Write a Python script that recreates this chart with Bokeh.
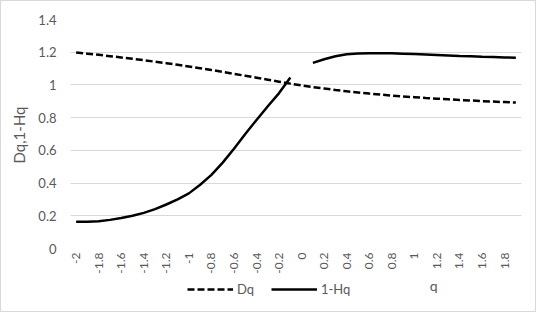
import math
from bokeh.plotting import figure
from bokeh.layouts import column
from bokeh.models import Range1d, FixedTicker, Label, Legend, LegendItem, ColumnDataSource, Title
from bokeh.embed import file_html
from bokeh.resources import INLINE

q = [-2.0, -1.9, -1.8, -1.7, -1.6, -1.5, -1.4, -1.3, -1.2, -1.1,
     -1.0, -0.9, -0.8, -0.7, -0.6, -0.5, -0.4, -0.3, -0.2, -0.1,
     0.0, 0.1, 0.2, 0.3, 0.4, 0.5, 0.6, 0.7, 0.8, 0.9,
     1.0, 1.1, 1.2, 1.3, 1.4, 1.5, 1.6, 1.7, 1.8, 1.9]

dq = [1.198, 1.191, 1.184, 1.176, 1.168, 1.160, 1.151, 1.142, 1.133, 1.123,
      1.113, 1.102, 1.091, 1.080, 1.068, 1.056, 1.044, 1.032, 1.020, 1.008,
      0.997, 0.987, 0.978, 0.969, 0.961, 0.954, 0.947, 0.941, 0.935, 0.930,
      0.925, 0.920, 0.916, 0.912, 0.908, 0.905, 0.901, 0.898, 0.895, 0.892]

one_minus_hq = [0.163, 0.164, 0.167, 0.175, 0.186, 0.200, 0.218, 0.241, 0.269, 0.300,
                0.337, 0.390, 0.450, 0.525, 0.610, 0.700, 0.786, 0.870, 0.950, 1.045,
                float("nan"), 1.135, 1.157, 1.175, 1.187, 1.192, 1.194, 1.194, 1.193, 1.191,
                1.189, 1.186, 1.183, 1.180, 1.177, 1.175, 1.172, 1.170, 1.168, 1.166]

x_ticks = [-2.0, -1.8, -1.6, -1.4, -1.2, -1.0, -0.8, -0.6, -0.4, -0.2,
           0.0, 0.2, 0.4, 0.6, 0.8, 1.0, 1.2, 1.4, 1.6, 1.8]
x_tick_labels = ["-2", "-1.8", "-1.6", "-1.4", "-1.2", "-1", "-0.8", "-0.6", "-0.4", "-0.2",
                 "0", "0.2", "0.4", "0.6", "0.8", "1", "1.2", "1.4", "1.6", "1.8"]
y_ticks = [0, 0.2, 0.4, 0.6, 0.8, 1.0, 1.2, 1.4]
y_tick_labels = ["0", "0.2", "0.4", "0.6", "0.8", "1", "1.2", "1.4"]

FONT = "Lato"
GRAY = "#595959"
DASH = "7 3"
LW = 2.5

src = ColumnDataSource(dict(q=q, dq=dq, hq=one_minus_hq))

# ---------------- main chart ----------------
p = figure(width=534, height=276, output_backend="svg", toolbar_location=None,
           x_range=Range1d(-2.05, 1.95), y_range=Range1d(0, 1.4),
           min_border_left=69, min_border_right=14, min_border_top=18, min_border_bottom=29)
p.outline_line_color = None

p.line("q", "dq", source=src, line_color="black", line_width=LW, line_dash=DASH)
p.line("q", "hq", source=src, line_color="black", line_width=LW)

p.xaxis.ticker = FixedTicker(ticks=x_ticks)
p.xaxis.major_label_overrides = {t: l for t, l in zip(x_ticks, x_tick_labels)}
p.xaxis.major_label_orientation = math.pi / 2
p.yaxis.ticker = FixedTicker(ticks=y_ticks)
p.yaxis.major_label_overrides = {t: l for t, l in zip(y_ticks, y_tick_labels)}
for ax in (p.xaxis, p.yaxis):
    ax.axis_line_color = None
    ax.major_tick_line_color = None
    ax.minor_tick_line_color = None
    ax.major_tick_out = 0
    ax.major_tick_in = 0
    ax.major_label_text_font = FONT
    ax.major_label_text_color = GRAY
p.xaxis.major_label_text_font_size = "12px"
p.yaxis.major_label_text_font_size = "13px"
p.xaxis.major_label_standoff = 4
p.yaxis.major_label_standoff = 14

p.xgrid.grid_line_color = None
p.ygrid.ticker = FixedTicker(ticks=y_ticks)
p.ygrid.grid_line_color = "#d9d9d9"
p.ygrid.grid_line_width = 1

p.add_layout(Title(text="Dq,1-Hq", align="left", offset=85, standoff=12, vertical_align="top",
                   text_font=FONT, text_font_size="15px", text_font_style="normal",
                   text_color=GRAY), "left")

# ---------------- legend strip ----------------
p2 = figure(width=534, height=34, output_backend="svg", toolbar_location=None,
            x_range=Range1d(0, 534), y_range=Range1d(0, 34),
            x_axis_location=None, y_axis_location=None,
            min_border_left=0, min_border_right=0, min_border_top=0, min_border_bottom=0)
p2.outline_line_color = None
p2.grid.visible = False
# the series are drawn here only to feed the legend; an off-screen range hides them
p2.extra_y_ranges = {"off": Range1d(10, 11)}
l_dq = p2.line("q", "dq", source=src, y_range_name="off",
               line_color="black", line_width=LW, line_dash=DASH)
l_hq = p2.line("q", "hq", source=src, y_range_name="off",
               line_color="black", line_width=LW)

legend = Legend(items=[LegendItem(label="Dq", renderers=[l_dq]),
                       LegendItem(label="1-Hq", renderers=[l_hq])],
                orientation="horizontal", location=(117, 13),
                padding=0, margin=0, spacing=14, glyph_width=46, glyph_height=18,
                label_standoff=4, label_text_font=FONT, label_text_font_size="13px",
                label_text_color=GRAY, background_fill_alpha=0, border_line_color=None)
p2.add_layout(legend, "center")
p2.add_layout(Label(x=430, y=26, text="q", text_align="center", text_baseline="middle",
                    text_font=FONT, text_font_size="14px", text_color=GRAY))

layout = column(p, p2, spacing=0, styles={"border": "1px solid #d9d9d9"})

open("out.html", "w").write(file_html(layout, INLINE))
